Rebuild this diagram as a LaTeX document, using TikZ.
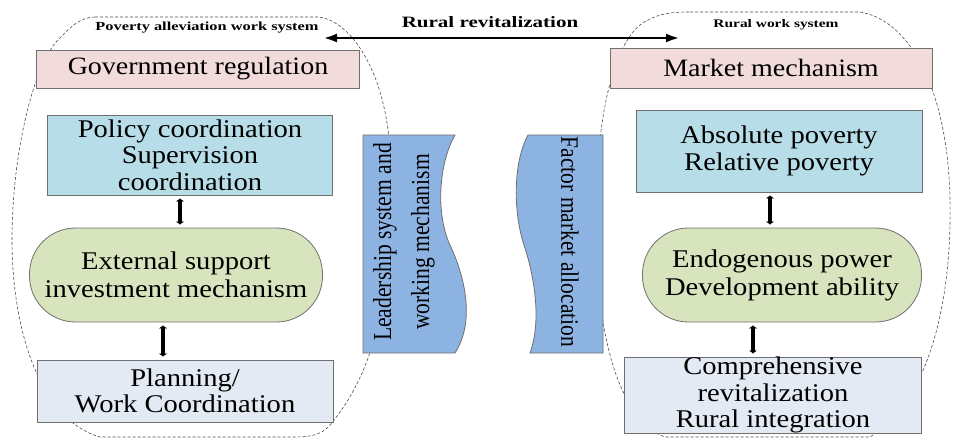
\documentclass[tikz,border=0pt]{standalone}
\usepackage{fontspec}
\setmainfont{Liberation Serif}
\newfontfamily\widefont[FakeStretch=1.12]{Liberation Serif}
\newfontfamily\narrowfont[FakeStretch=0.83]{Liberation Serif}
\newfontfamily\slimfont[FakeStretch=0.86]{Liberation Serif}
\newfontfamily\titlefont[FakeStretch=1.33]{Liberation Serif}
\usetikzlibrary{arrows.meta}
\definecolor{govfill}{HTML}{F2DCDB}
\definecolor{polfill}{HTML}{B7DEE8}
\definecolor{ovalfill}{HTML}{D7E4BD}
\definecolor{planfill}{HTML}{E4EAF4}
\definecolor{wavefill}{HTML}{8DB3E2}
\definecolor{edge}{HTML}{6F6F6F}
\tikzset{
  box/.style={draw=edge, line width=0.8pt, align=center, inner sep=0pt},
  govbox/.style={box, fill=govfill, font=\widefont\fontsize{25}{27}\selectfont},
  polbox/.style={box, fill=polfill, font=\widefont\fontsize{25.5}{26.5}\selectfont},
  ovalbox/.style={box, fill=ovalfill, rounded corners=46pt, font=\widefont\fontsize{25.5}{28}\selectfont},
  planbox/.style={box, fill=planfill, font=\widefont\fontsize{25.5}{26.5}\selectfont},
  wave/.style={draw=edge, line width=0.8pt, fill=wavefill},
  outline/.style={draw=black!70, dash pattern=on 3pt off 2pt, line width=0.6pt},
  biarrow/.style={{Latex[length=3pt,width=9pt]}-{Latex[length=3pt,width=9pt]}, line width=3.2pt},
  title/.style={font=\titlefont\bfseries\fontsize{12.3}{14}\selectfont},
}
\begin{document}
\begin{tikzpicture}[x=1pt, y=-1pt]
\useasboundingbox (0,0) rectangle (956,440);

% dashed outlines of the two work systems
\draw[outline] (95,17) -- (318,17)
  .. controls (350,20) and (385,70) .. (390,150)
  .. controls (395,260) and (385,360) .. (330,425)
  .. controls (320,436) and (310,437) .. (290,437)
  -- (100,437)
  .. controls (40,420) and (12,330) .. (12,240)
  .. controls (12,150) and (35,60) .. (60,38)
  .. controls (72,25) and (82,17) .. (95,17) -- cycle;
\draw[outline] (690,12) -- (860,12)
  .. controls (910,20) and (948,90) .. (950,200)
  .. controls (952,300) and (930,400) .. (870,437)
  -- (665,437)
  .. controls (620,420) and (598,340) .. (596,240)
  .. controls (594,130) and (610,50) .. (640,25)
  .. controls (655,14) and (670,12) .. (690,12) -- cycle;

% titles and the connecting arrow
\node[title] (ltitle) at (207,28) {Poverty alleviation work system};
\node[title, font=\titlefont\bfseries\fontsize{11.6}{14}\selectfont] (rtitle) at (776,25) {Rural work system};
\node[font=\titlefont\bfseries\fontsize{15.8}{18}\selectfont] (rural) at (490,22) {Rural revitalization};
\coordinate (ra) at (323,38);
\coordinate (rb) at (680,38);
\draw[{Latex[length=14pt,width=9pt]}-{Latex[length=14pt,width=9pt]}, line width=2.8pt] (ra) -- (rb);

% left column
\node[govbox, minimum width=323pt, minimum height=38pt] (gov) at (198,69) {Government regulation};
\node[polbox, minimum width=285pt, minimum height=80pt] (pol) at (190,155) {Policy coordination\\Supervision\\coordination};
\node[ovalbox, minimum width=293pt, minimum height=94pt] (ext) at (176,275) {External support\\investment mechanism};
\node[planbox, minimum width=296pt, minimum height=62pt] (plan) at (185,391) {Planning/\\Work Coordination};

% right column
\node[govbox, minimum width=322pt, minimum height=40pt] (mkt) at (771,68) {Market mechanism};
\node[polbox, minimum width=286pt, minimum height=82pt] (abs) at (779,151) {Absolute poverty\\Relative poverty};
\node[ovalbox, minimum width=279pt, minimum height=94pt] (endo) at (782,275) {Endogenous power\\Development ability};
\node[planbox, minimum width=297pt, minimum height=72pt] (comp) at (773,395) {Comprehensive\\revitalization\\Rural integration};

% short links between the stacked blocks
\draw[biarrow, shorten <=3pt, shorten >=3pt] ([xshift=-10pt]pol.south) -- ([xshift=-10pt]pol.south |- ext.north);
\draw[biarrow, shorten <=3pt, shorten >=3pt] ([xshift=-13pt]ext.south) -- ([xshift=-13pt]ext.south |- plan.north);
\draw[biarrow, shorten <=3pt, shorten >=3pt] ([xshift=-9pt]abs.south) -- ([xshift=-9pt]abs.south |- endo.north);
\draw[biarrow, shorten <=3pt, shorten >=3pt] ([xshift=-29pt]endo.south) -- ([xshift=-29pt]endo.south |- comp.north);

% wavy banners in the middle
\draw[wave] (363,135) -- (455,135)
  .. controls (438,165) and (436,215) .. (450,245)
  .. controls (464,275) and (476,320) .. (455,353)
  -- (363,353) -- cycle;
\node[rotate=90, align=center, font=\narrowfont\fontsize{26}{38}\selectfont] (lead) at (404,242) {Leadership system and\\working mechanism};

\draw[wave] (603,135) -- (528,135)
  .. controls (512,165) and (514,215) .. (524,245)
  .. controls (534,275) and (542,320) .. (530,353)
  -- (603,353) -- cycle;
\node[rotate=-90, font=\slimfont\fontsize{25}{30}\selectfont] (factor) at (570,242) {Factor market allocation};
\end{tikzpicture}
\end{document}
